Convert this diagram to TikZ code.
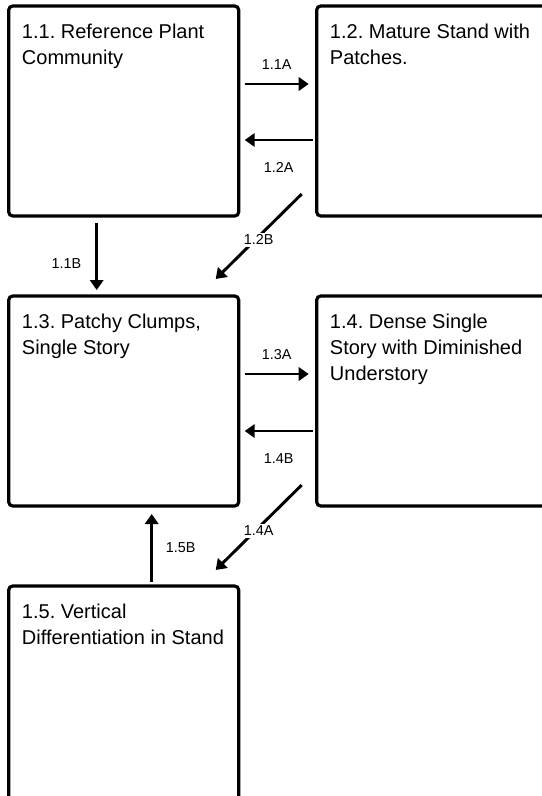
\documentclass[tikz,border=0pt]{standalone}
\usepackage{fontspec}
\setmainfont{Liberation Sans}
\usetikzlibrary{arrows.meta}
\frenchspacing
\begin{document}
\begin{tikzpicture}[x=0.75pt,y=-0.75pt,
  box/.style={draw, line width=2.4pt, rounded corners=3pt, minimum width=172.5pt, minimum height=157.5pt, anchor=north west, inner sep=0pt, outer sep=0pt},
  title/.style={anchor=north west, align=left, inner sep=0pt, font=\fontsize{15pt}{19.3pt}\selectfont},
  arr/.style={line width=2.2pt, -{Triangle[length=7.5pt,width=10pt]}},
  lbl/.style={font=\fontsize{10.8pt}{12pt}\selectfont, inner sep=1.5pt, fill=white}]
\useasboundingbox (0,0) rectangle (542,796);
\clip (0,0) rectangle (542,796);
% boxes
\node[box] (n11) at (8.7,6) {};
\node[box] (n12) at (316.7,6) {};
\node[box] (n13) at (8.7,296) {};
\node[box] (n14) at (316.7,296) {};
\node[box, minimum height=180pt] (n15) at (8.7,586) {};
% titles
\node[title] (t11) at ([shift={(13,18)}]n11.north west) {1.1. Reference Plant\\Community};
\node[title] (t12) at ([shift={(13,18)}]n12.north west) {1.2. Mature Stand with\\Patches.};
\node[title] (t13) at ([shift={(13,18)}]n13.north west) {1.3. Patchy Clumps,\\Single Story};
\node[title] (t14) at ([shift={(13,18)}]n14.north west) {1.4. Dense Single\\Story with Diminished\\Understory};
\node[title] (t15) at ([shift={(13,18)}]n15.north west) {1.5. Vertical\\Differentiation in Stand};
% horizontal arrows
\draw[arr] ([shift={(6,-27)}]n11.east) -- node[lbl, above=8pt, fill=none] {1.1A} ([shift={(-8,-27)}]n12.west);
\draw[arr] ([shift={(-4,29)}]n12.west) -- node[lbl, below=14pt, fill=none] {1.2A} ([shift={(6,29)}]n11.east);
\draw[arr] ([shift={(6,-27)}]n13.east) -- node[lbl, above=8pt, fill=none] {1.3A} ([shift={(-8,-27)}]n14.west);
\draw[arr] ([shift={(-4,30)}]n14.west) -- node[lbl, below=14pt, fill=none] {1.4B} ([shift={(6,30)}]n13.east);
% vertical arrows
\draw[arr] ([shift={(-27,7)}]n11.south) -- node[lbl, pos=0.6, left=9pt, fill=none] {1.1B} ([shift={(-27,-6)}]n13.north);
\draw[arr] ([shift={(28,-4)}]n15.north) -- node[lbl, pos=0.5, right=8pt, fill=none] {1.5B} ([shift={(28,8)}]n13.south);
% diagonal arrows
\draw[arr] ([shift={(-15,-22)}]n12.south west) -- node[lbl, pos=0.5, yshift=-2.5pt] {1.2B} ([shift={(-23,-17)}]n13.north east);
\draw[arr] ([shift={(-15,-21)}]n14.south west) -- node[lbl, pos=0.5, yshift=-2.5pt] {1.4A} ([shift={(-23,-16)}]n15.north east);
\end{tikzpicture}
\end{document}
